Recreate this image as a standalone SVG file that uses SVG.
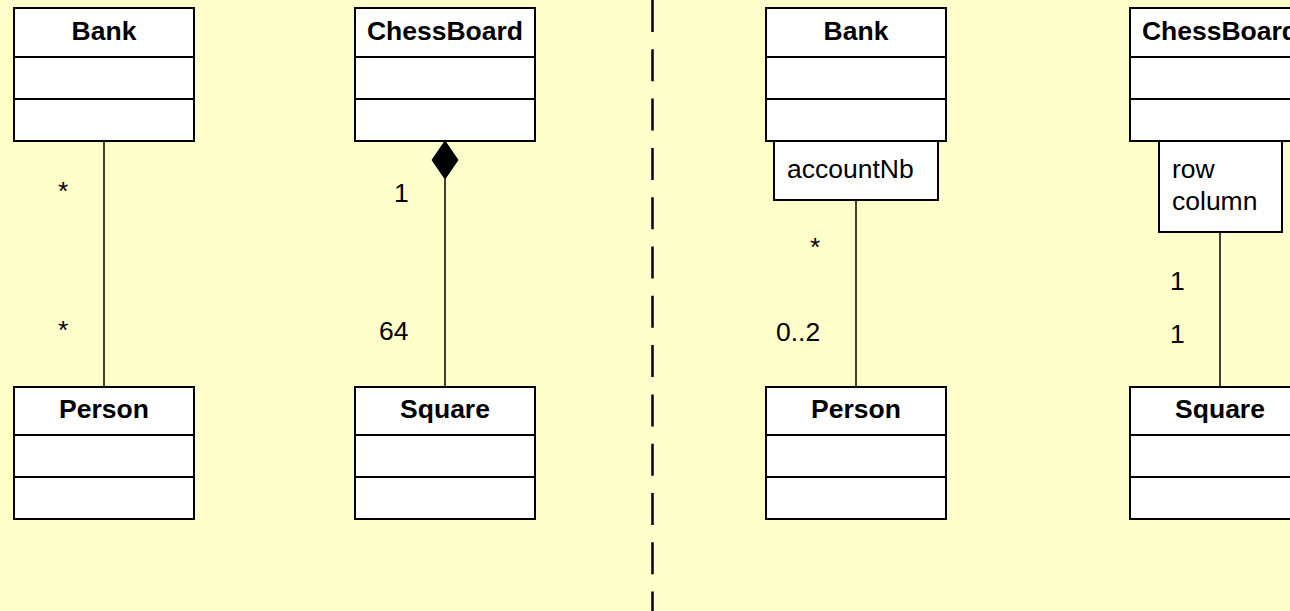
<svg xmlns="http://www.w3.org/2000/svg" width="1290" height="611" viewBox="0 0 1290 611">
  <style>
    .box { fill: #ffffff; stroke: #000000; stroke-width: 2; }
    .sep { stroke: #000000; stroke-width: 2; }
    .title { font-family: "Liberation Sans", Arial, sans-serif; font-weight: bold; font-size: 26.5px; text-anchor: middle; fill: #000; }
    .txt { font-family: "Liberation Sans", Arial, sans-serif; font-size: 26.5px; fill: #000; }
    .link { stroke: #000000; stroke-width: 1.5; fill: none; }
  </style>
  <rect x="0" y="0" width="1290" height="611" fill="#ffffcc"/>

  <!-- divider between the two variants -->
  <line x1="652.5" y1="0" x2="652.5" y2="611" stroke="#000" stroke-width="2.5" stroke-dasharray="32 17.3"/>

  <!-- connectors -->
  <g id="connectors">
    <line class="link" x1="104" y1="141" x2="104" y2="387"/>
    <line class="link" x1="445" y1="179" x2="445" y2="387"/>
    <polygon points="445,141 458,160 445,179 432,160" fill="#000" stroke="#000" stroke-width="1"/>
    <line class="link" x1="856" y1="200" x2="856" y2="387"/>
    <line class="link" x1="1220" y1="232" x2="1220" y2="387"/>
  </g>

  <!-- multiplicities -->
  <g id="labels">
    <text class="txt" x="58" y="200">*</text>
    <text class="txt" x="58" y="339">*</text>
    <text class="txt" x="394" y="202">1</text>
    <text class="txt" x="379" y="340">64</text>
    <text class="txt" x="810" y="256">*</text>
    <text class="txt" x="776" y="341">0..2</text>
    <text class="txt" x="1170" y="290">1</text>
    <text class="txt" x="1170" y="343">1</text>
  </g>

  <g id="bank-left">
    <rect class="box" x="14" y="8" width="180" height="133"/>
    <line class="sep" x1="14" y1="57" x2="194" y2="57"/>
    <line class="sep" x1="14" y1="99" x2="194" y2="99"/>
    <text class="title" x="104" y="40">Bank</text>
  </g>
  <g id="person-left">
    <rect class="box" x="14" y="387" width="180" height="132"/>
    <line class="sep" x1="14" y1="435" x2="194" y2="435"/>
    <line class="sep" x1="14" y1="477" x2="194" y2="477"/>
    <text class="title" x="104" y="418">Person</text>
  </g>
  <g id="chessboard-left">
    <rect class="box" x="355" y="8" width="180" height="133"/>
    <line class="sep" x1="355" y1="57" x2="535" y2="57"/>
    <line class="sep" x1="355" y1="99" x2="535" y2="99"/>
    <text class="title" x="445" y="40">ChessBoard</text>
  </g>
  <g id="square-left">
    <rect class="box" x="355" y="387" width="180" height="132"/>
    <line class="sep" x1="355" y1="435" x2="535" y2="435"/>
    <line class="sep" x1="355" y1="477" x2="535" y2="477"/>
    <text class="title" x="445" y="418">Square</text>
  </g>

  <g id="bank-right">
    <rect class="box" x="766" y="8" width="180" height="133"/>
    <line class="sep" x1="766" y1="57" x2="946" y2="57"/>
    <line class="sep" x1="766" y1="99" x2="946" y2="99"/>
    <text class="title" x="856" y="40">Bank</text>
  </g>
  <g id="bank-qualifier">
    <rect class="box" x="774" y="141" width="164" height="59"/>
    <text class="txt" x="787" y="178">accountNb</text>
  </g>
  <g id="person-right">
    <rect class="box" x="766" y="387" width="180" height="132"/>
    <line class="sep" x1="766" y1="435" x2="946" y2="435"/>
    <line class="sep" x1="766" y1="477" x2="946" y2="477"/>
    <text class="title" x="856" y="418">Person</text>
  </g>
  <g id="chessboard-right">
    <rect class="box" x="1130" y="8" width="180" height="133"/>
    <line class="sep" x1="1130" y1="57" x2="1310" y2="57"/>
    <line class="sep" x1="1130" y1="99" x2="1310" y2="99"/>
    <text class="title" x="1220" y="40">ChessBoard</text>
  </g>
  <g id="chessboard-qualifier">
    <rect class="box" x="1159" y="141" width="123" height="91"/>
    <text class="txt" x="1172" y="178">row</text>
    <text class="txt" x="1172" y="210">column</text>
  </g>
  <g id="square-right">
    <rect class="box" x="1130" y="387" width="180" height="132"/>
    <line class="sep" x1="1130" y1="435" x2="1310" y2="435"/>
    <line class="sep" x1="1130" y1="477" x2="1310" y2="477"/>
    <text class="title" x="1220" y="418">Square</text>
  </g>
</svg>
